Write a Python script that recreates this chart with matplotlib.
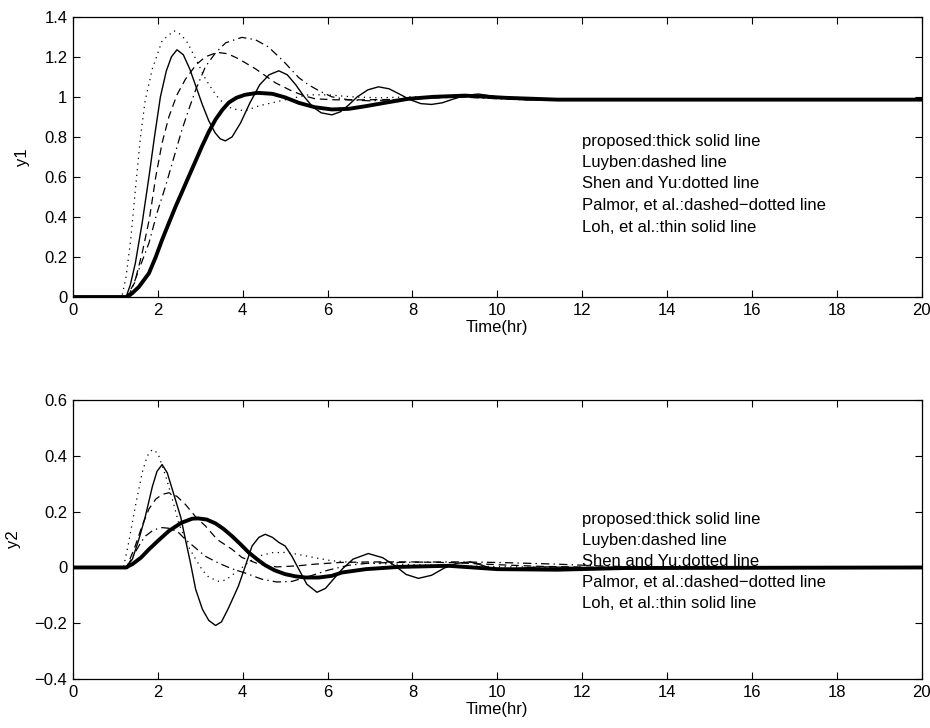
import matplotlib
matplotlib.use("Agg")
import matplotlib.pyplot as plt
from matplotlib.ticker import FuncFormatter

plt.rcParams['font.family'] = ['Liberation Sans', 'DejaVu Sans']
plt.rcParams['lines.scale_dashes'] = False

# ---- y1 responses ----
y1_prop_t = [0, 1.28, 1.4, 1.55, 1.79, 1.95, 2.1, 2.26, 2.42, 2.58, 2.73, 2.89, 3.04, 3.2, 3.36, 3.52, 3.67, 3.85, 4.05, 4.35, 4.7, 5.0, 5.32, 5.7, 6.1, 6.5, 6.89, 7.4, 7.9, 8.5, 9.24, 10.2, 11.4, 20]
y1_prop = [0, 0, 0.02, 0.05, 0.119, 0.2, 0.286, 0.37, 0.453, 0.53, 0.603, 0.68, 0.753, 0.825, 0.887, 0.935, 0.971, 0.995, 1.01, 1.02, 1.015, 0.997, 0.97, 0.948, 0.937, 0.94, 0.953, 0.972, 0.99, 1.0, 1.006, 0.995, 0.986, 0.986]

y1_luy_t = [0, 1.25, 1.45, 1.63, 1.8, 1.95, 2.1, 2.26, 2.45, 2.65, 2.9, 3.12, 3.4, 3.65, 3.9, 4.3, 4.77, 5.15, 5.45, 5.71, 6.2, 6.8, 7.67, 8.5, 9.5, 11, 20]
y1_luy = [0, 0, 0.07, 0.22, 0.39, 0.6, 0.77, 0.9, 1.01, 1.088, 1.16, 1.2, 1.222, 1.215, 1.19, 1.14, 1.07, 1.03, 1.005, 0.99, 0.985, 0.985, 0.987, 0.995, 1.0, 0.986, 0.986]

y1_shen_t = [0, 1.15, 1.25, 1.36, 1.47, 1.59, 1.7, 1.87, 2.1, 2.38, 2.55, 2.7, 2.89, 3.12, 3.3, 3.44, 3.6, 3.75, 4.06, 4.38, 4.69, 5.1, 5.55, 6.0, 6.57, 7.2, 8.0, 9.5, 11, 20]
y1_shen = [0, 0, 0.1, 0.286, 0.536, 0.8, 0.98, 1.14, 1.28, 1.33, 1.31, 1.27, 1.19, 1.09, 1.03, 0.99, 0.96, 0.94, 0.93, 0.955, 0.97, 0.99, 1.01, 1.01, 1.0, 0.995, 1.0, 1.0, 0.986, 0.986]

y1_palm_t = [0, 1.3, 1.42, 1.55, 1.79, 1.98, 2.18, 2.34, 2.57, 2.75, 2.9, 3.12, 3.36, 3.6, 3.98, 4.3, 4.6, 4.95, 5.32, 5.55, 5.8, 6.1, 6.5, 7.0, 8.0, 9.0, 10.5, 20]
y1_palm = [0, 0, 0.06, 0.135, 0.27, 0.42, 0.553, 0.67, 0.837, 0.95, 1.04, 1.15, 1.22, 1.27, 1.297, 1.285, 1.25, 1.18, 1.096, 1.06, 1.03, 1.0, 0.985, 0.98, 0.99, 1.0, 0.986, 0.986]

y1_loh_t = [0, 1.25, 1.35, 1.47, 1.63, 1.79, 1.92, 2.06, 2.2, 2.32, 2.45, 2.6, 2.75, 2.9, 3.05, 3.2, 3.35, 3.47, 3.59, 3.75, 3.95, 4.17, 4.4, 4.62, 4.85, 5.05, 5.25, 5.45, 5.65, 5.85, 6.1, 6.3, 6.5, 6.7, 6.95, 7.2, 7.45, 7.7, 7.95, 8.2, 8.45, 8.7, 8.95, 9.25, 9.55, 9.85, 10.2, 10.7, 11.5, 20]
y1_loh = [0, 0, 0.06, 0.17, 0.37, 0.6, 0.8, 1.0, 1.13, 1.2, 1.235, 1.21, 1.14, 1.05, 0.96, 0.88, 0.82, 0.79, 0.78, 0.8, 0.87, 0.97, 1.06, 1.11, 1.13, 1.11, 1.06, 1.0, 0.95, 0.92, 0.91, 0.925, 0.96, 1.0, 1.035, 1.05, 1.04, 1.013, 0.985, 0.966, 0.962, 0.97, 0.988, 1.007, 1.014, 1.005, 0.992, 0.985, 0.986, 0.986]

# ---- y2 responses ----
y2_prop_t = [0, 1.26, 1.32, 1.4, 1.6, 1.79, 2.02, 2.26, 2.55, 2.81, 2.95, 3.15, 3.36, 3.55, 3.75, 3.95, 4.14, 4.35, 4.53, 4.75, 5.0, 5.25, 5.48, 5.79, 6.1, 6.34, 6.9, 7.67, 8.85, 10.0, 11.4, 13, 20]
y2_prop = [0, 0, 0.006, 0.012, 0.035, 0.065, 0.098, 0.131, 0.16, 0.175, 0.176, 0.172, 0.158, 0.138, 0.112, 0.083, 0.054, 0.028, 0.008, -0.01, -0.024, -0.032, -0.036, -0.036, -0.03, -0.018, -0.006, 0.002, 0.006, -0.006, -0.008, -0.002, 0]

y2_luy_t = [0, 1.26, 1.45, 1.63, 1.79, 1.95, 2.1, 2.26, 2.45, 2.65, 2.9, 3.12, 3.4, 3.75, 3.98, 4.38, 4.8, 5.3, 5.71, 6.3, 7.0, 8.0, 9.0, 10.0, 11.0, 12.5, 20]
y2_luy = [0, 0, 0.07, 0.15, 0.21, 0.245, 0.262, 0.268, 0.255, 0.226, 0.18, 0.149, 0.1, 0.065, 0.036, 0.012, 0.002, 0.006, 0.012, 0.018, 0.02, 0.02, 0.017, 0.01, 0.004, 0, 0]

y2_shen_t = [0, 1.19, 1.3, 1.47, 1.63, 1.75, 1.87, 2.0, 2.18, 2.35, 2.49, 2.7, 2.89, 3.05, 3.2, 3.44, 3.6, 3.9, 4.15, 4.38, 4.7, 5.0, 5.3, 5.7, 6.1, 6.8, 7.6, 8.6, 10, 11.5, 20]
y2_shen = [0, 0, 0.08, 0.22, 0.34, 0.4, 0.423, 0.41, 0.33, 0.24, 0.16, 0.08, 0.03, -0.01, -0.035, -0.05, -0.045, -0.01, 0.02, 0.041, 0.053, 0.054, 0.047, 0.035, 0.024, 0.016, 0.012, 0.008, 0.003, 0, 0]

y2_palm_t = [0, 1.26, 1.45, 1.6, 1.71, 1.9, 2.1, 2.3, 2.49, 2.65, 2.81, 3.12, 3.44, 3.75, 4.06, 4.45, 4.8, 5.16, 5.6, 6.0, 6.5, 7.0, 8.0, 9.0, 10.0, 11.4, 12.5, 14, 20]
y2_palm = [0, 0, 0.05, 0.09, 0.113, 0.135, 0.143, 0.14, 0.125, 0.1, 0.08, 0.04, 0.015, -0.005, -0.02, -0.042, -0.052, -0.05, -0.03, -0.01, 0.008, 0.016, 0.019, 0.02, 0.018, 0.012, 0.005, 0, 0]

y2_loh_t = [0, 1.22, 1.3, 1.4, 1.55, 1.7, 1.87, 1.98, 2.1, 2.22, 2.32, 2.42, 2.54, 2.65, 2.77, 2.89, 3.05, 3.2, 3.36, 3.5, 3.65, 3.8, 3.9, 4.05, 4.22, 4.38, 4.53, 4.7, 4.85, 5.0, 5.16, 5.32, 5.51, 5.75, 5.95, 6.15, 6.35, 6.6, 6.96, 7.3, 7.6, 7.85, 8.14, 8.45, 8.75, 9.05, 9.36, 9.6, 9.87, 10.4, 11, 12, 20]
y2_loh = [0, 0, 0.01, 0.03, 0.1, 0.18, 0.29, 0.345, 0.369, 0.34, 0.29, 0.24, 0.18, 0.1, 0.015, -0.078, -0.15, -0.19, -0.208, -0.195, -0.15, -0.1, -0.066, 0.0, 0.077, 0.108, 0.119, 0.108, 0.09, 0.077, 0.04, -0.006, -0.06, -0.089, -0.075, -0.04, -0.005, 0.03, 0.05, 0.035, 0.005, -0.025, -0.039, -0.028, -0.002, 0.015, 0.02, 0.01, -0.004, -0.004, 0.002, 0, 0]

legend_lines = [
    "proposed:thick solid line",
    "Luyben:dashed line",
    "Shen and Yu:dotted line",
    "Palmor, et al.:dashed\u2212dotted line",
    "Loh, et al.:thin solid line",
]

DASHED = (0, (5.5, 3.5))
DOTTED = (0, (0.9, 3.2))
DASHDOT = (0, (6, 3, 1, 3))

fig = plt.figure(figsize=(9.3, 7.28), dpi=100)
ax1 = fig.add_axes([0.0785, 0.592, 0.9125, 0.385])
ax2 = fig.add_axes([0.0785, 0.0673, 0.9125, 0.383])

fmt = FuncFormatter(lambda v, p: ("%g" % v).replace("-", "\u2212"))


def draw_panel(ax, prop, luy, shen, palm, loh, ylim, yticks, ylabel, text_y):
    ax.plot(prop[0], prop[1], color='black', lw=2.8, solid_joinstyle='round')
    ax.plot(luy[0], luy[1], color='black', lw=0.9, linestyle=DASHED)
    ax.plot(shen[0], shen[1], color='black', lw=0.9, linestyle=DOTTED)
    ax.plot(palm[0], palm[1], color='black', lw=0.9, linestyle=DASHDOT)
    ax.plot(loh[0], loh[1], color='black', lw=1.0, solid_joinstyle='round')
    ax.set_xlim(0, 20)
    ax.set_ylim(*ylim)
    ax.set_xticks(range(0, 21, 2))
    ax.set_yticks(yticks)
    ax.yaxis.set_major_formatter(fmt)
    ax.tick_params(direction='in', top=True, right=True, length=5, width=0.8,
                   labelsize=12, pad=4)
    for s in ax.spines.values():
        s.set_linewidth(0.9)
    ax.set_xlabel("Time(hr)", fontsize=12, labelpad=2)
    ax.set_ylabel(ylabel, fontsize=12, labelpad=10)
    for i, line in enumerate(legend_lines):
        ax.text(12.0, text_y[i], line, fontsize=12, va='center', ha='left')


draw_panel(ax1, (y1_prop_t, y1_prop), (y1_luy_t, y1_luy), (y1_shen_t, y1_shen),
           (y1_palm_t, y1_palm), (y1_loh_t, y1_loh),
           (0, 1.4), [0, 0.2, 0.4, 0.6, 0.8, 1, 1.2, 1.4], "y1",
           [0.778, 0.670, 0.565, 0.456, 0.349])

draw_panel(ax2, (y2_prop_t, y2_prop), (y2_luy_t, y2_luy), (y2_shen_t, y2_shen),
           (y2_palm_t, y2_palm), (y2_loh_t, y2_loh),
           (-0.4, 0.6), [-0.4, -0.2, 0, 0.2, 0.4, 0.6], "y2",
           [0.172, 0.097, 0.022, -0.054, -0.129])

fig.savefig("out.png", dpi=100)
